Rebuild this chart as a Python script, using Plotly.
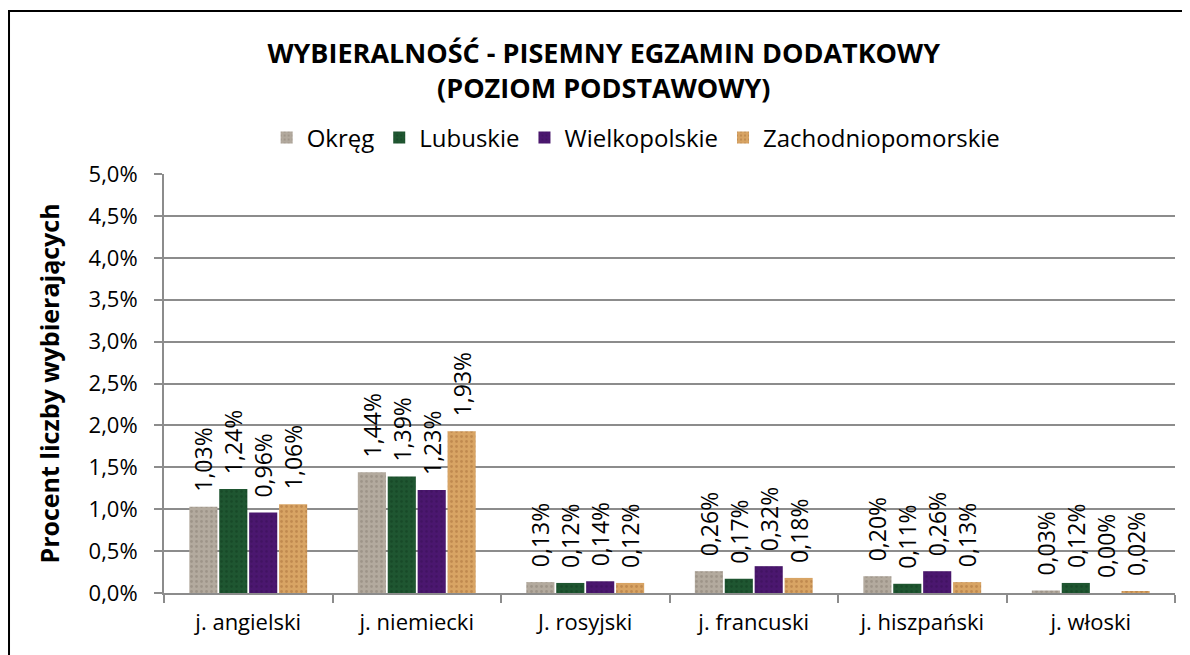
import plotly.graph_objects as go

categories = ["j. angielski", "j. niemiecki", "J. rosyjski", "j. francuski", "j. hiszpański", "j. włoski"]
okreg = [0.0103, 0.0144, 0.0013, 0.0026, 0.0020, 0.0003]
lubuskie = [0.0124, 0.0139, 0.0012, 0.0017, 0.0011, 0.0012]
wielkopolskie = [0.0096, 0.0123, 0.0014, 0.0032, 0.0026, 0.0000]
zachodniopomorskie = [0.0106, 0.0193, 0.0012, 0.0018, 0.0013, 0.0002]

series = [
    ("Okręg", okreg, "#b3aa9e", "#8a8074"),
    ("Lubuskie", lubuskie, "#1f5631", "#123d20"),
    ("Wielkopolskie", wielkopolskie, "#4b176f", "#3a0f58"),
    ("Zachodniopomorskie", zachodniopomorskie, "#d8a464", "#a8703a"),
]

font = "Open Sans, Noto Sans, sans-serif"

fig = go.Figure()
for name, vals, col, dark in series:
    fig.add_trace(go.Bar(
        x=categories, y=vals, name=name,
        marker=dict(color=col, line=dict(width=0),
                    pattern=dict(shape=".", fgcolor=dark, size=5, solidity=0.25)),
        texttemplate="\u00a0\u00a0%{y:.2%}", textposition="outside", textangle=-90,
        constraintext="none",
        textfont=dict(size=23, color="black", family=font),
        cliponaxis=False,
    ))

# page body has an 8px margin, so the figure is made 8px smaller
fig.update_layout(
    width=1182, height=647,
    margin=dict(l=156, r=15, t=166, b=62),
    paper_bgcolor="white", plot_bgcolor="white",
    separators=", ",
    barmode="group", bargap=0.29, bargroupgap=0.06,
    font=dict(family=font, size=22, color="black"),
    title=dict(text="<b>WYBIERALNOŚĆ - PISEMNY EGZAMIN DODATKOWY<br>(POZIOM PODSTAWOWY)</b>",
               x=0.504, xref="container", xanchor="center",
               yref="container", y=0.915, yanchor="top",
               font=dict(size=27, family=font, color="black")),
    legend=dict(orientation="h", x=0.467, xanchor="center", y=1.086, yanchor="middle",
                font=dict(size=24, family=font), itemwidth=30, traceorder="normal",
                bgcolor="rgba(0,0,0,0)"),
    showlegend=True,
)

fig.update_yaxes(
    range=[0, 0.05], dtick=0.005, tickformat=".1%",
    showgrid=True, gridcolor="#8c8c8c", gridwidth=2,
    showline=True, linecolor="#8c8c8c", linewidth=2,
    ticks="outside", ticklen=8, tickcolor="#8c8c8c", tickwidth=2,
    tickfont=dict(size=22), ticklabelstandoff=12, zeroline=False,
    title=dict(text="<b>Procent liczby wybierających</b>", font=dict(size=25), standoff=22),
)
fig.update_xaxes(
    showline=True, linecolor="#8c8c8c", linewidth=2,
    ticks="outside", tickson="boundaries", ticklen=8, tickcolor="#8c8c8c", tickwidth=2,
    tickfont=dict(size=22), ticklabelstandoff=9, showgrid=False,
)

# outer chart frame
fig.add_shape(type="rect", xref="paper", yref="paper",
              x0=-0.1533, x1=1.05, y0=-0.25, y1=1.389,
              line=dict(color="black", width=2), layer="below")

fig.write_html("out.html")
